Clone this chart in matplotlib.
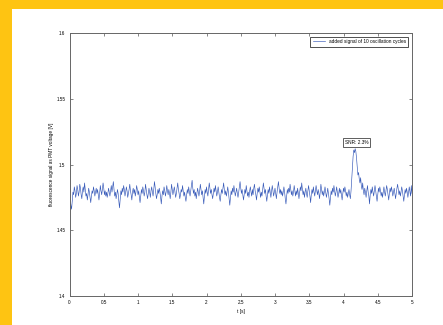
# Recreates the "fluorescence signal" figure with SNR annotation

import matplotlib.pyplot as plt
import numpy as np
from matplotlib.patches import Rectangle

plt.rcParams['font.family'] = ['Liberation Sans', 'DejaVu Sans']

# signal, 0.01 s steps from 0 to 5 s
signal = [
    1.486, 1.474, 1.469, 1.466, 1.472, 1.479, 1.477, 1.483, 1.480, 1.475,
    1.478, 1.484, 1.481, 1.476, 1.479, 1.485, 1.482, 1.477, 1.474, 1.480,
    1.483, 1.479, 1.486, 1.481, 1.476, 1.478, 1.473, 1.477, 1.482, 1.479,
    1.475, 1.471, 1.476, 1.480, 1.478, 1.483, 1.480, 1.476, 1.479, 1.482,
    1.478, 1.481, 1.477, 1.473, 1.478, 1.484, 1.480, 1.477, 1.481, 1.486,
    1.482, 1.477, 1.480, 1.476, 1.479, 1.475, 1.478, 1.482, 1.479, 1.476,
    1.480, 1.484, 1.479, 1.483, 1.487, 1.481, 1.476, 1.479, 1.474, 1.477,
    1.481, 1.478, 1.472, 1.467, 1.474, 1.480, 1.477, 1.482, 1.479, 1.484,
    1.481, 1.476, 1.479, 1.483, 1.480, 1.475, 1.478, 1.481, 1.485, 1.480,
    1.477, 1.473, 1.479, 1.482, 1.478, 1.481, 1.476, 1.479, 1.484, 1.481,
    1.477, 1.480, 1.475, 1.471, 1.476, 1.481, 1.478, 1.483, 1.480, 1.476,
    1.479, 1.485, 1.481, 1.477, 1.474, 1.478, 1.482, 1.479, 1.475, 1.480,
    1.483, 1.479, 1.476, 1.481, 1.487, 1.483, 1.478, 1.474, 1.477, 1.481,
    1.478, 1.482, 1.479, 1.475, 1.470, 1.476, 1.480, 1.477, 1.483, 1.480,
    1.476, 1.479, 1.484, 1.480, 1.477, 1.481, 1.478, 1.474, 1.479, 1.485,
    1.481, 1.477, 1.480, 1.483, 1.479, 1.475, 1.478, 1.482, 1.486, 1.481,
    1.478, 1.474, 1.477, 1.481, 1.479, 1.484, 1.480, 1.476, 1.479, 1.475,
    1.472, 1.477, 1.481, 1.478, 1.483, 1.479, 1.476, 1.480, 1.484, 1.488,
    1.482, 1.478, 1.481, 1.476, 1.479, 1.474, 1.478, 1.482, 1.479, 1.476,
    1.480, 1.485, 1.481, 1.477, 1.480, 1.475, 1.470, 1.476, 1.481, 1.478,
    1.483, 1.479, 1.476, 1.481, 1.486, 1.482, 1.478, 1.481, 1.477, 1.474,
    1.478, 1.482, 1.479, 1.484, 1.480, 1.476, 1.479, 1.483, 1.479, 1.475,
    1.472, 1.477, 1.481, 1.478, 1.482, 1.486, 1.481, 1.477, 1.480, 1.476,
    1.479, 1.483, 1.479, 1.474, 1.469, 1.475, 1.480, 1.477, 1.482, 1.479,
    1.484, 1.480, 1.476, 1.479, 1.482, 1.478, 1.475, 1.479, 1.483, 1.487,
    1.482, 1.478, 1.481, 1.477, 1.473, 1.477, 1.481, 1.478, 1.484, 1.480,
    1.476, 1.479, 1.475, 1.480, 1.483, 1.479, 1.476, 1.481, 1.477, 1.482,
    1.485, 1.480, 1.477, 1.473, 1.478, 1.482, 1.479, 1.483, 1.479, 1.475,
    1.479, 1.476, 1.481, 1.486, 1.482, 1.478, 1.481, 1.476, 1.472, 1.477,
    1.481, 1.478, 1.483, 1.479, 1.475, 1.480, 1.484, 1.480, 1.476, 1.479,
    1.482, 1.478, 1.474, 1.479, 1.483, 1.487, 1.482, 1.478, 1.481, 1.477,
    1.480, 1.476, 1.479, 1.483, 1.479, 1.474, 1.470, 1.476, 1.481, 1.478,
    1.482, 1.479, 1.485, 1.481, 1.477, 1.480, 1.476, 1.479, 1.484, 1.480,
    1.476, 1.480, 1.477, 1.482, 1.478, 1.474, 1.479, 1.483, 1.480, 1.486,
    1.481, 1.477, 1.480, 1.475, 1.479, 1.482, 1.478, 1.475, 1.480, 1.484,
    1.480, 1.476, 1.471, 1.477, 1.481, 1.478, 1.483, 1.479, 1.476, 1.480,
    1.484, 1.480, 1.477, 1.481, 1.478, 1.474, 1.479, 1.485, 1.481, 1.477,
    1.480, 1.476, 1.479, 1.483, 1.479, 1.475, 1.478, 1.482, 1.478, 1.474,
    1.469, 1.475, 1.480, 1.477, 1.482, 1.479, 1.484, 1.480, 1.476, 1.479,
    1.483, 1.479, 1.475, 1.478, 1.482, 1.478, 1.481, 1.477, 1.473, 1.478,
    1.482, 1.479, 1.483, 1.480, 1.476, 1.479, 1.475, 1.478, 1.481, 1.477,
    1.474, 1.480, 1.489, 1.498, 1.506, 1.511, 1.509, 1.512, 1.510, 1.505,
    1.498, 1.492, 1.494, 1.489, 1.486, 1.490, 1.484, 1.481, 1.486, 1.480,
    1.477, 1.482, 1.479, 1.475, 1.480, 1.484, 1.479, 1.476, 1.470, 1.477,
    1.481, 1.478, 1.483, 1.479, 1.476, 1.480, 1.484, 1.480, 1.476, 1.472,
    1.477, 1.482, 1.479, 1.483, 1.480, 1.476, 1.479, 1.475, 1.479, 1.483,
    1.479, 1.476, 1.480, 1.484, 1.481, 1.477, 1.473, 1.478, 1.482, 1.479,
    1.483, 1.480, 1.476, 1.479, 1.482, 1.478, 1.474, 1.478, 1.482, 1.485,
    1.481, 1.477, 1.480, 1.476, 1.479, 1.483, 1.480, 1.476, 1.472, 1.477,
    1.481, 1.478, 1.482, 1.479, 1.475, 1.479, 1.483, 1.479, 1.476, 1.484,
    1.478,
]
t = np.linspace(0, 5, len(signal))

x_ticks = [0, 0.5, 1, 1.5, 2, 2.5, 3, 3.5, 4, 4.5, 5]
x_labels = ['0', '0.5', '1', '1.5', '2', '2.5', '3', '3.5', '4', '4.5', '5']
y_ticks = [1.4, 1.45, 1.5, 1.55, 1.6]
y_labels = ['1.4', '1.45', '1.5', '1.55', '1.6']

snr_text = 'SNR: 2.3%'
snr_pos = (4.19, 1.5167)

fig = plt.figure(figsize=(4.43, 3.25), dpi=100, facecolor='#fec412')
# white page area, yellow frame on the top and left
fig.patches.append(Rectangle((12 / 443, 0), 1 - 12 / 443, 316 / 325,
                             transform=fig.transFigure, facecolor='white',
                             edgecolor='none', zorder=-5))

ax = fig.add_axes([69.5 / 443, 29 / 325, 342.5 / 443, 263 / 325])
ax.plot(t, signal, color='#3558b8', lw=0.45,
        label='added signal of 10 oscillation cycles')

ax.set_xlim(0, 5)
ax.set_ylim(1.4, 1.6)
ax.set_xticks(x_ticks)
ax.set_xticklabels(x_labels)
ax.set_yticks(y_ticks)
ax.set_yticklabels(y_labels)
ax.tick_params(direction='in', length=2.2, width=0.5, color='#555555',
               labelsize=3.3, top=True, right=True, pad=3)
for s in ax.spines.values():
    s.set_color('#666666')
    s.set_linewidth(0.7)

ax.set_xlabel('t [s]', fontsize=3.4, labelpad=2.5)
ax.set_ylabel('fluorescence signal as PMT voltage [V]', fontsize=3.4)
ax.yaxis.set_label_coords(-0.044, 0.5)

ax.text(snr_pos[0], snr_pos[1], snr_text, fontsize=3.4, ha='center', va='center',
        bbox=dict(boxstyle='square,pad=0.35', facecolor='white',
                  edgecolor='#444444', linewidth=0.6))

leg = ax.legend(loc='upper right', fontsize=3.4, fancybox=False,
                edgecolor='#333333', framealpha=1, handlelength=2.6,
                borderaxespad=0.8, borderpad=0.5)
leg.get_frame().set_linewidth(0.6)

plt.savefig('out.png', dpi=100, facecolor=fig.get_facecolor())
